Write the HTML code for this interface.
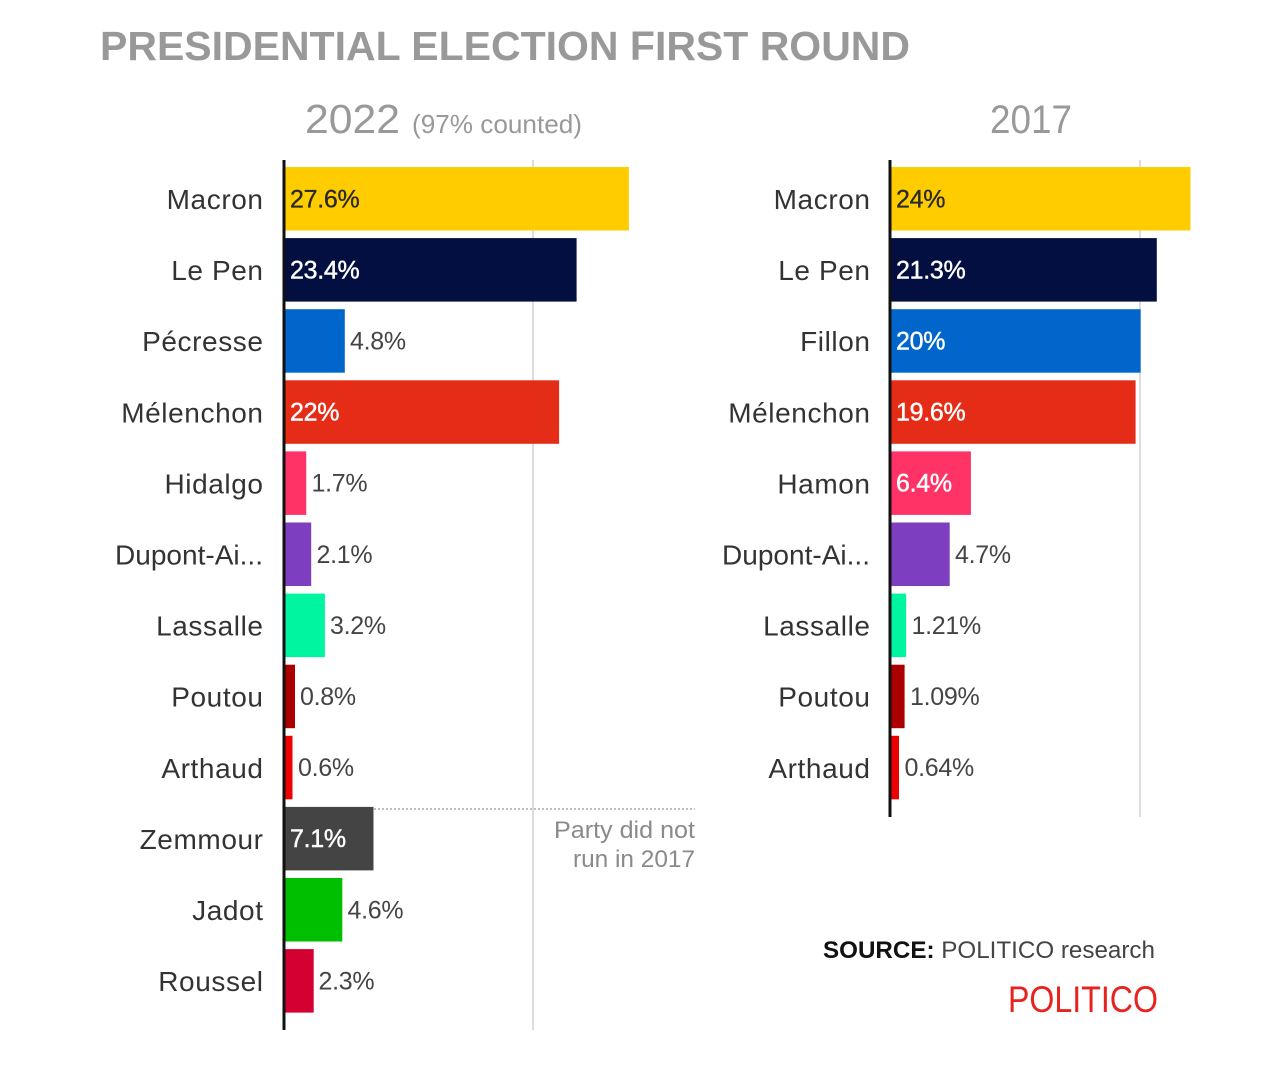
<!DOCTYPE html>
<html><head><meta charset="utf-8"><style>
html,body{margin:0;padding:0;background:#fff;}
svg{display:block;}
text{font-family:"Liberation Sans",Arial,sans-serif;}
.lab{font-size:28px;fill:#333;text-anchor:end;letter-spacing:0.6px;}
.val{font-size:25px;letter-spacing:-0.3px;}
.in-d{fill:#2a2a2a;stroke:#2a2a2a;stroke-width:0.35px;}
.in-w{fill:#fff;stroke:#fff;stroke-width:0.45px;}
.out{fill:#444;}
</style></head><body>
<svg width="1288" height="1080" viewBox="0 0 1288 1080" xmlns="http://www.w3.org/2000/svg">
<rect width="1288" height="1080" fill="#fff"/>
<!-- Title -->
<text x="100" y="60" font-size="41" font-weight="bold" fill="#999" textLength="810" lengthAdjust="spacingAndGlyphs">PRESIDENTIAL ELECTION FIRST ROUND</text>
<text x="305" y="133" font-size="41" fill="#999" textLength="95" lengthAdjust="spacingAndGlyphs">2022</text>
<text x="412" y="133" font-size="26" fill="#999" textLength="170" lengthAdjust="spacingAndGlyphs">(97% counted)</text>
<text x="990" y="133" font-size="40" fill="#999" textLength="82" lengthAdjust="spacingAndGlyphs">2017</text>

<!-- gridlines -->
<line x1="533" y1="160" x2="533" y2="1030" stroke="#ddd" stroke-width="2"/>
<line x1="1140" y1="160" x2="1140" y2="817" stroke="#ddd" stroke-width="2"/>

<!-- LEFT bars -->
<rect x="285" y="167" width="343.9" height="63.5" fill="#FFCC00"/>
<rect x="285" y="238.1" width="291.6" height="63.5" fill="#020F40"/>
<rect x="285" y="309.2" width="59.8" height="63.5" fill="#0066CC"/>
<rect x="285" y="380.3" width="274.1" height="63.5" fill="#E42C16"/>
<rect x="285" y="451.4" width="21.2" height="63.5" fill="#FF3366"/>
<rect x="285" y="522.5" width="26.2" height="63.5" fill="#7D3FBF"/>
<rect x="285" y="593.6" width="39.9" height="63.5" fill="#00F5A0"/>
<rect x="285" y="664.7" width="10" height="63.5" fill="#AA0000"/>
<rect x="285" y="735.8" width="7.5" height="63.5" fill="#EE0000"/>
<rect x="285" y="806.9" width="88.5" height="63.5" fill="#444444"/>
<rect x="285" y="878" width="57.3" height="63.5" fill="#00BF00"/>
<rect x="285" y="949.1" width="28.7" height="63.5" fill="#D50032"/>

<!-- dotted separator -->
<line x1="374" y1="809" x2="695" y2="809" stroke="#aaa" stroke-width="1.5" stroke-dasharray="2,2"/>
<text x="695" y="838" font-size="24" fill="#8a8a8a" text-anchor="end" textLength="141" lengthAdjust="spacingAndGlyphs">Party did not</text>
<text x="695" y="867" font-size="24" fill="#8a8a8a" text-anchor="end" textLength="122" lengthAdjust="spacingAndGlyphs">run in 2017</text>

<!-- LEFT axis -->
<line x1="284" y1="160" x2="284" y2="1030" stroke="#111" stroke-width="3"/>

<!-- LEFT labels -->
<text class="lab" x="263.6" y="209">Macron</text>
<text class="lab" x="263.6" y="280.1">Le Pen</text>
<text class="lab" x="263.6" y="351.2">Pécresse</text>
<text class="lab" x="263.6" y="422.3">Mélenchon</text>
<text class="lab" x="263.6" y="493.4">Hidalgo</text>
<text x="115" y="564.5" font-size="28" fill="#333" textLength="148" lengthAdjust="spacingAndGlyphs">Dupont-Ai...</text>
<text class="lab" x="263.6" y="635.6">Lassalle</text>
<text class="lab" x="263.6" y="706.7">Poutou</text>
<text class="lab" x="263.6" y="777.8">Arthaud</text>
<text class="lab" x="263.6" y="848.9">Zemmour</text>
<text class="lab" x="263.6" y="920">Jadot</text>
<text class="lab" x="263.6" y="991.1">Roussel</text>

<!-- LEFT values -->
<text class="val in-d" x="290" y="207.5">27.6%</text>
<text class="val in-w" x="290" y="278.5">23.4%</text>
<text class="val out" x="350" y="349.5">4.8%</text>
<text class="val in-w" x="290" y="420.6">22%</text>
<text class="val out" x="311.5" y="491.7">1.7%</text>
<text class="val out" x="316.5" y="562.8">2.1%</text>
<text class="val out" x="330" y="633.9">3.2%</text>
<text class="val out" x="300" y="705">0.8%</text>
<text class="val out" x="298" y="776.1">0.6%</text>
<text class="val in-w" x="290" y="847.2">7.1%</text>
<text class="val out" x="347.5" y="918.3">4.6%</text>
<text class="val out" x="318.5" y="989.4">2.3%</text>

<!-- RIGHT bars -->
<rect x="891" y="167" width="299.5" height="63.5" fill="#FFCC00"/>
<rect x="891" y="238.1" width="265.8" height="63.5" fill="#020F40"/>
<rect x="891" y="309.2" width="249.6" height="63.5" fill="#0066CC"/>
<rect x="891" y="380.3" width="244.6" height="63.5" fill="#E42C16"/>
<rect x="891" y="451.4" width="79.9" height="63.5" fill="#FF3366"/>
<rect x="891" y="522.5" width="58.7" height="63.5" fill="#7D3FBF"/>
<rect x="891" y="593.6" width="15.1" height="63.5" fill="#00F5A0"/>
<rect x="891" y="664.7" width="13.6" height="63.5" fill="#AA0000"/>
<rect x="891" y="735.8" width="8" height="63.5" fill="#EE0000"/>

<!-- RIGHT axis -->
<line x1="890" y1="160" x2="890" y2="817" stroke="#111" stroke-width="3"/>

<!-- RIGHT labels -->
<text class="lab" x="870.6" y="209">Macron</text>
<text class="lab" x="870.6" y="280.1">Le Pen</text>
<text class="lab" x="870.6" y="351.2">Fillon</text>
<text class="lab" x="870.6" y="422.3">Mélenchon</text>
<text class="lab" x="870.6" y="493.4">Hamon</text>
<text x="722" y="564.5" font-size="28" fill="#333" textLength="148" lengthAdjust="spacingAndGlyphs">Dupont-Ai...</text>
<text class="lab" x="870.6" y="635.6">Lassalle</text>
<text class="lab" x="870.6" y="706.7">Poutou</text>
<text class="lab" x="870.6" y="777.8">Arthaud</text>

<!-- RIGHT values -->
<text class="val in-d" x="896" y="207.5">24%</text>
<text class="val in-w" x="896" y="278.5">21.3%</text>
<text class="val in-w" x="896" y="349.5">20%</text>
<text class="val in-w" x="896" y="420.6">19.6%</text>
<text class="val in-w" x="896" y="491.7">6.4%</text>
<text class="val out" x="955" y="562.8">4.7%</text>
<text class="val out" x="911.5" y="633.9">1.21%</text>
<text class="val out" x="910" y="705">1.09%</text>
<text class="val out" x="904.5" y="776.1">0.64%</text>

<!-- Source -->
<text x="823" y="958" font-size="24" fill="#444" textLength="332" lengthAdjust="spacingAndGlyphs"><tspan font-weight="bold" fill="#111">SOURCE:</tspan> POLITICO research</text>
<text x="1008" y="1012" font-size="37" fill="#E8231F" textLength="150" lengthAdjust="spacingAndGlyphs">POLITICO</text>
</svg>
</body></html>
